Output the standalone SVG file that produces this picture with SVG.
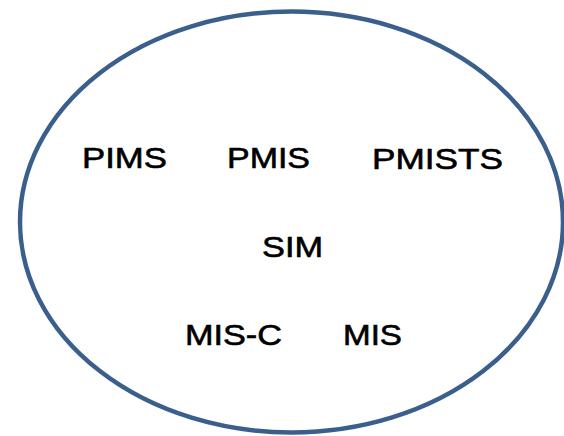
<svg xmlns="http://www.w3.org/2000/svg" width="564" height="436" viewBox="0 0 564 436">
<style>
.t{font-family:"Liberation Sans","DejaVu Sans",sans-serif;font-size:30px;fill:#000;stroke:#000;stroke-width:0.6px}
.o{fill:none;stroke:#3b5f8c;stroke-width:4.5}
</style>
<g id="set"><ellipse class="o" cx="291.5" cy="222" rx="271.5" ry="210.5"/></g>
<g id="pims"><text class="t" x="82" y="168" textLength="85" lengthAdjust="spacingAndGlyphs">PIMS</text></g>
<g id="pmis"><text class="t" x="227" y="168" textLength="83" lengthAdjust="spacingAndGlyphs">PMIS</text></g>
<g id="pmists"><text class="t" x="372" y="169" textLength="131" lengthAdjust="spacingAndGlyphs">PMISTS</text></g>
<g id="sim"><text class="t" x="262" y="257" textLength="61" lengthAdjust="spacingAndGlyphs">SIM</text></g>
<g id="misc"><text class="t" x="185" y="345" textLength="97" lengthAdjust="spacingAndGlyphs">MIS-C</text></g>
<g id="mis"><text class="t" x="343" y="345" textLength="59" lengthAdjust="spacingAndGlyphs">MIS</text></g>
<g id="connectors"/>
</svg>
